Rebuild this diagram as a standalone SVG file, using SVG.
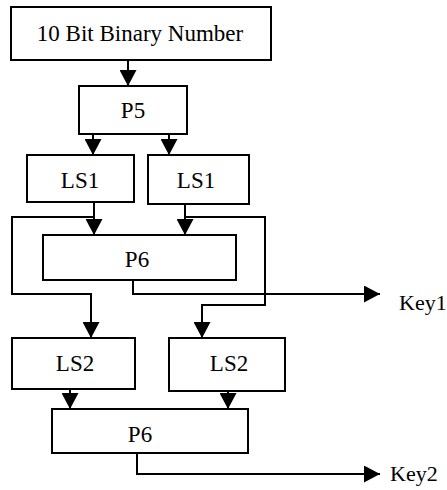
<svg xmlns="http://www.w3.org/2000/svg" width="447" height="490" viewBox="0 0 447 490">
  <style>
    .box { fill: #ffffff; stroke: #000000; stroke-width: 2; }
    .lbl { font-size: 23px; fill: #000000; text-anchor: middle; }
    .key { font-size: 22px; fill: #000000; }
    .wire { fill: none; stroke: #000000; stroke-width: 2; marker-end: url(#head); }
  </style>
  <defs>
    <marker id="head" markerUnits="userSpaceOnUse" markerWidth="16" markerHeight="17" viewBox="0 0 16 17" refX="16" refY="8.5" orient="auto">
      <path d="M0,0 L16,8.5 L0,17 z" fill="#000000"/>
    </marker>
  </defs>

  <g id="connectors">
    <path class="wire" d="M128,60 V86"/>
    <path class="wire" d="M93,134 V155"/>
    <path class="wire" d="M169,134 V155"/>
    <path class="wire" d="M94,202 V235"/>
    <path class="wire" d="M185,204 V235"/>
    <path class="wire" d="M94,217 H12 V294 H91 V338"/>
    <path class="wire" d="M185,217 H265 V305 H202 V338"/>
    <path class="wire" d="M133,280 V294 H380"/>
    <path class="wire" d="M70,389 V409"/>
    <path class="wire" d="M228,391 V409"/>
    <path class="wire" d="M137,453 V474 H380"/>
  </g>

  <g font-family="Liberation Serif, DejaVu Serif, serif">
    <g id="input">
      <rect class="box" x="11" y="7" width="260" height="53"/>
      <text class="lbl" x="140" y="41">10 Bit Binary Number</text>
    </g>
    <g id="p5">
      <rect class="box" x="79" y="86" width="108" height="48"/>
      <text class="lbl" x="133" y="118">P5</text>
    </g>
    <g id="ls1-left">
      <rect class="box" x="27" y="155" width="107" height="47"/>
      <text class="lbl" x="80" y="188">LS1</text>
    </g>
    <g id="ls1-right">
      <rect class="box" x="148" y="155" width="101" height="49"/>
      <text class="lbl" x="196" y="188">LS1</text>
    </g>
    <g id="p6-first">
      <rect class="box" x="43" y="235" width="193" height="45"/>
      <text class="lbl" x="137" y="267">P6</text>
    </g>
    <g id="key1">
      <text class="key" x="399" y="310">Key1</text>
    </g>
    <g id="ls2-left">
      <rect class="box" x="12" y="338" width="123" height="51"/>
      <text class="lbl" x="75" y="371">LS2</text>
    </g>
    <g id="ls2-right">
      <rect class="box" x="169" y="338" width="116" height="53"/>
      <text class="lbl" x="229" y="371">LS2</text>
    </g>
    <g id="p6-second">
      <rect class="box" x="52" y="409" width="196" height="44"/>
      <text class="lbl" x="140" y="442">P6</text>
    </g>
    <g id="key2">
      <text class="key" x="390" y="481">Key2</text>
    </g>
  </g>
</svg>
